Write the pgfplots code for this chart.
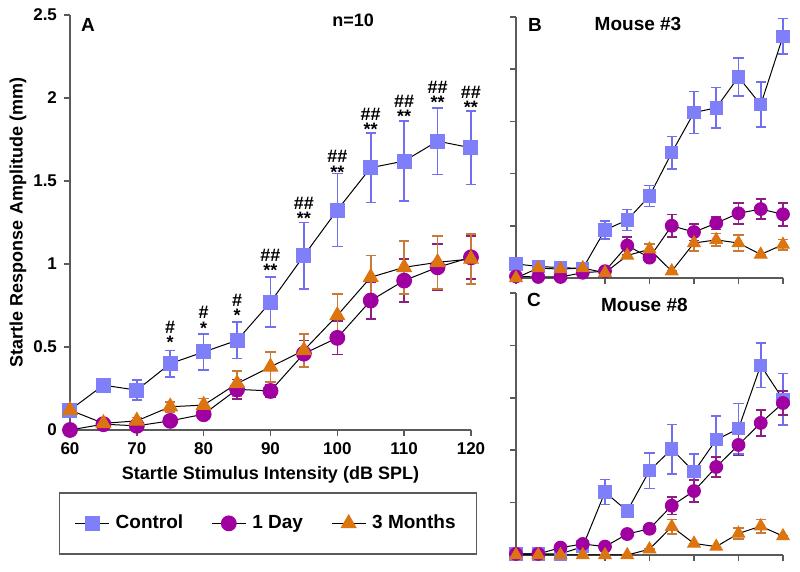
\documentclass[border=0pt]{standalone}
\usepackage{fontspec}
\setmainfont{Liberation Sans}
\usepackage{pgfplots}
\pgfplotsset{compat=1.18}

\definecolor{ctrl}{HTML}{7F7FFA}
\definecolor{ctrlerr}{HTML}{6F6FF0}
\definecolor{day}{HTML}{A000A0}
\definecolor{dayerr}{HTML}{8E1F82}
\definecolor{mon}{HTML}{DC7410}
\definecolor{monerr}{HTML}{C87A3A}
\definecolor{axgray}{HTML}{5A5A5A}

% panel A: x y err
\pgfplotstableread{
x y e
60 0.12 0.02
65 0.27 0.02
70 0.24 0.06
75 0.40 0.08
80 0.47 0.11
85 0.54 0.11
90 0.77 0.15
95 1.05 0.20
100 1.325 0.22
105 1.58 0.21
110 1.62 0.24
115 1.74 0.20
120 1.70 0.22
}\Actrl
\pgfplotstableread{
x y e
60 0.00 0
65 0.035 0.01
70 0.025 0.01
75 0.055 0.01
80 0.095 0.01
85 0.245 0.06
90 0.235 0.04
95 0.46 0.08
100 0.555 0.10
105 0.78 0.11
110 0.90 0.13
115 0.98 0.14
120 1.04 0.13
}\Aday
\pgfplotstableread{
x y e
60 0.12 0.01
65 0.04 0.02
70 0.055 0.02
75 0.14 0.03
80 0.15 0.04
85 0.28 0.075
90 0.38 0.09
95 0.48 0.10
100 0.69 0.13
105 0.92 0.13
110 0.98 0.16
115 1.01 0.16
120 1.03 0.15
}\Amon

% panel B (mouse #3), arbitrary units
\pgfplotstableread{
x y e
60 0.27 0
65 0.22 0
70 0.20 0
75 0.18 0
80 0.92 0.17
85 1.11 0.20
90 1.57 0.20
95 2.40 0.31
100 3.17 0.40
105 3.26 0.39
110 3.85 0.36
115 3.32 0.43
120 4.63 0.34
}\Bctrl
\pgfplotstableread{
x y e
60 0.03 0
65 0.02 0
70 0.02 0
75 0.10 0
80 0.13 0
85 0.62 0.17
90 0.39 0
95 1.00 0.22
100 0.88 0.16
105 1.05 0.12
110 1.24 0.20
115 1.32 0.19
120 1.22 0.22
}\Bday
\pgfplotstableread{
x y e
60 0.00 0
65 0.19 0
70 0.17 0
75 0.19 0
80 0.10 0
85 0.43 0
90 0.55 0.10
95 0.13 0
100 0.67 0.15
105 0.73 0.12
110 0.67 0.15
115 0.45 0
120 0.64 0.10
}\Bmon

% panel C (mouse #8)
\pgfplotstableread{
x y e
60 0.02 0
65 0.02 0
70 0.02 0
75 0.16 0
80 1.20 0.24
85 0.84 0
90 1.61 0.34
95 2.02 0.47
100 1.59 0.34
105 2.20 0.45
110 2.41 0.48
115 3.62 0.42
120 2.97 0.49
}\Cctrl
\pgfplotstableread{
x y e
60 0.02 0
65 0.02 0
70 0.14 0
75 0.21 0
80 0.16 0
85 0.40 0
90 0.50 0
95 0.94 0.17
100 1.22 0.21
105 1.68 0.19
110 2.10 0.20
115 2.52 0.25
120 2.90 0.23
}\Cday
\pgfplotstableread{
x y e
60 0 0
65 0 0
70 0 0
75 0 0
80 0 0
85 0 0
90 0.11 0
95 0.54 0.14
100 0.22 0
105 0.16 0
110 0.41 0.11
115 0.55 0.13
120 0.36 0
}\Cmon

\pgfplotsset{
  base/.style={
    scale only axis,
    axis lines=left,
    axis line style={axgray, line width=0.8pt, -},
    tick style={axgray, line width=0.8pt},
    tick align=outside,
    major tick length=3pt,
    xmin=60, xmax=120,
    clip=false,
    /pgf/number format/assume math mode=true,
    tick label style={font=\fontsize{8.5}{10}\selectfont\bfseries},
    label style={font=\fontsize{9}{10}\selectfont\bfseries},
  },
  errs/.style={
    error bars/.cd, y dir=both, y explicit,
    error bar style={color=#1, line width=0.8pt},
    error mark options={rotate=90, mark size=2.6pt, line width=0.8pt, color=#1},
  },
}

% significance marks: x, centre of the # line, hashes, stars
\newcommand{\ann}[4]{%
  \node[font=\fontsize{9}{7.6}\selectfont\bfseries, align=center, inner sep=0pt,
    anchor=north] at (axis cs:#1,#2+0.04) {#3\\#4};}

\begin{document}
\begin{tikzpicture}
\useasboundingbox (0,0) rectangle (400pt,286pt);

% ---------- panel A ----------
\begin{axis}[base,
  at={(35pt,71pt)}, anchor=south west,
  width=200.5pt, height=207.5pt,
  ymin=0, ymax=2.5,
  xtick={60,70,...,120},
  ytick={0,0.5,1,1.5,2,2.5},
  yticklabels={0,0.5,1,1.5,2,2.5},
  xlabel={Startle Stimulus Intensity (dB SPL)},
  ylabel={Startle Response Amplitude (mm)},
  xlabel style={at={(axis description cs:0.5,-0.108)}, anchor=center},
  ylabel style={at={(axis description cs:-0.13,0.5)}, anchor=center},
  legend columns=3,
  legend style={at={(axis description cs:0.494,-0.225)}, anchor=center,
    draw=axgray, line width=0.8pt, inner xsep=7.5pt, inner ysep=9pt,
    font=\fontsize{9.5}{11}\selectfont\bfseries,
    /tikz/column 2/.style={column sep=11pt},
    /tikz/column 4/.style={column sep=11pt},
    nodes={inner xsep=3pt}},
]
\addplot[black, line width=0.5pt, mark=square*, mark size=3.5pt,
  mark options={fill=ctrl, draw=ctrl}, errs=ctrlerr]
  table[x=x, y=y, y error=e] {\Actrl};
\addlegendentry{Control}
\addplot[black, line width=0.5pt, mark=*, mark size=3.7pt,
  mark options={fill=day, draw=day}, errs=dayerr]
  table[x=x, y=y, y error=e] {\Aday};
\addlegendentry{1 Day}
\addplot[black, line width=0.5pt, mark=triangle*, mark size=4.2pt,
  mark options={fill=mon, draw=mon}, errs=monerr]
  table[x=x, y=y, y error=e] {\Amon};
\addlegendentry{3 Months}

\node[font=\fontsize{9.5}{11}\selectfont\bfseries] at (axis description cs:0.045,0.976) {A};
\node[font=\fontsize{9}{10}\selectfont\bfseries] at (axis description cs:0.706,0.988) {n=10};

\ann{75}{0.62}{\#}{*}
\ann{80}{0.705}{\#}{*}
\ann{85}{0.78}{\#}{*}
\ann{90}{1.054}{\#\#}{**}
\ann{95}{1.367}{\#\#}{**}
\ann{100}{1.645}{\#\#}{**}
\ann{105}{1.90}{\#\#}{**}
\ann{110}{1.98}{\#\#}{**}
\ann{115}{2.066}{\#\#}{**}
\ann{120}{2.036}{\#\#}{**}
\end{axis}

% ---------- panel B ----------
\begin{axis}[base,
  at={(258pt,147pt)}, anchor=south west,
  width=133.5pt, height=130.5pt,
  ymin=0, ymax=5,
  xtick={60,70,...,120}, xticklabels={},
  ytick={0,1,...,5}, yticklabels={},
]
\addplot[black, line width=0.5pt, mark=square*, mark size=3.1pt,
  mark options={fill=ctrl, draw=ctrl}, errs=ctrlerr]
  table[x=x, y=y, y error=e] {\Bctrl};
\addplot[black, line width=0.5pt, mark=*, mark size=3.2pt,
  mark options={fill=day, draw=day}, errs=dayerr]
  table[x=x, y=y, y error=e] {\Bday};
\addplot[black, line width=0.5pt, mark=triangle*, mark size=3.6pt,
  mark options={fill=mon, draw=mon}, errs=monerr]
  table[x=x, y=y, y error=e] {\Bmon};
\node[font=\fontsize{9.5}{11}\selectfont\bfseries] at (axis description cs:0.071,0.969) {B};
\node[font=\fontsize{9.5}{11}\selectfont\bfseries] at (axis description cs:0.457,0.973) {Mouse \#3};
\end{axis}

% ---------- panel C ----------
\begin{axis}[base,
  at={(258pt,8.5pt)}, anchor=south west,
  width=133.5pt, height=131pt,
  ymin=0, ymax=5,
  xtick={60,70,...,120}, xticklabels={},
  ytick={0,1,...,5}, yticklabels={},
]
\addplot[black, line width=0.5pt, mark=square*, mark size=3.1pt,
  mark options={fill=ctrl, draw=ctrl}, errs=ctrlerr]
  table[x=x, y=y, y error=e] {\Cctrl};
\addplot[black, line width=0.5pt, mark=*, mark size=3.2pt,
  mark options={fill=day, draw=day}, errs=dayerr]
  table[x=x, y=y, y error=e] {\Cday};
\addplot[black, line width=0.5pt, mark=triangle*, mark size=3.6pt,
  mark options={fill=mon, draw=mon}, errs=monerr]
  table[x=x, y=y, y error=e] {\Cmon};
\node[font=\fontsize{9.5}{11}\selectfont\bfseries] at (axis description cs:0.067,0.973) {C};
\node[font=\fontsize{9.5}{11}\selectfont\bfseries] at (axis description cs:0.481,0.954) {Mouse \#8};
\end{axis}
\end{tikzpicture}
\end{document}
